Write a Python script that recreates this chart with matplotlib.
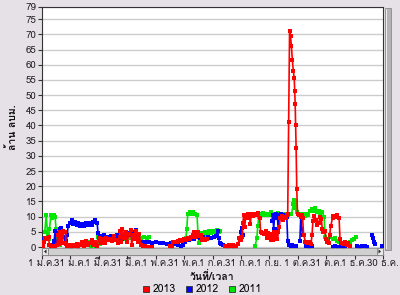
import numpy as np
import matplotlib
matplotlib.use("Agg")
import matplotlib.pyplot as plt
from matplotlib import font_manager
from matplotlib.lines import Line2D
from matplotlib.patches import Rectangle, Polygon

N = None  # gap in a series

# day of year (0..365) and value (ล้าน ลบม.)
red_days = [1, 2, 3, 5, 7, 8, 10, 12, 14, 16, 17, 18, 19, 20, 21, 22, 23, 25, 26, 27, 29, 31, 33, 35, 37, 39,
            41, 43, 45, 47, 49, 51, 53, 55, 57, 59, 61, 63, 65, 67, 69, 71, 73, 75, 77, 79, 81, 83, 84, 85, 86,
            88, 90, 91, 93, 95, 96, 98, 100, 101, 103, 104, 106, 108, 110, 112, N, 116, 118, N,
            137, 139, 140, 142, 144, 146, 148, 150, 152, 154, 156, 158, 160, 162, 163, 164, 166, 167, 168, 170,
            171, 173, 175, 177, N,
            196, 198, 200, 202, 204, 206, 208, 210, 211, 213, 214, 215, 216, 217, 218, 220, 221, 222, 223, 224,
            226, 228, 230, 231, 233, 234, 236, 238, 240, 241, 242, 244, 245, 246, 247, 248, 250, 251, 252, 253,
            254, 255, 257, 258, 259, 261, 262, 263, 264, 265, 266, 267, 268, 269, 270, 270.5, 271, 271.5, 272,
            272.7, 273.5, 275, 277, 278, 279, 280, 282, 284, 286, 288, 289, 290, 291, 293, 294, 296, 298, 299,
            300, 301, 303, 304, 305, 307, 308, 309, 311, 312, 314, 316, 318, 319, 320, 322, 324, 326, 328, 330]
red_vals = [0.3, 1.5, 3.0, 2.6, 3.2, 0.5, 0.0, 0.4, 0.0, 0.6, 3.8, 1.0, 5.0, 2.0, 4.5, 1.2, 5.2, 4.8, 1.0, 0.2,
            0.8, 0.0, 0.5, 0.2, 1.0, 0.1, 0.6, 1.6, 0.4, 1.9, 0.6, 1.2, 2.2, 0.6, 1.6, 0.3, 3.0, 1.2, 2.6, 1.4,
            3.0, 2.2, 2.6, 2.0, 3.6, 2.4, 1.4, 3.2, 5.2, 1.8, 6.0, 3.0, 5.0, 1.6, 4.2, 5.6, 0.8, 4.0, 2.8, 5.4,
            1.8, 4.4, 0.6, 0.2, 0.4, 0.0, N, 0.1, 0.0, N,
            0.2, 0.0, 1.5, 1.8, 1.6, 2.0, 2.2, 2.0, 2.6, 2.4, 3.0, 2.8, 3.4, 3.8, 4.8, 3.2, 4.2, 5.0, 3.6, 4.0,
            2.4, 2.8, 2.2, 2.6, N,
            0.4, 0.0, 0.6, 0.2, 0.5, 0.0, 0.3, 1.0, 3.0, 2.2, 3.2, 8.0, 10.5, 6.5, 10.2, 11.0, 9.5, 10.6, 7.5,
            10.8, 10.2, 11.0, 10.4, 11.2, 9.6, 5.0, 4.6, 4.2, 5.2, 3.0, 4.6, 3.6, 2.4, 4.2, 2.2, 5.0, 3.6, 4.4,
            2.6, 4.8, 6.5, 9.6, 10.2, 8.8, 10.0, 9.6, 10.4, 11.0, 41.0, 71.0, 69.5, 66.0, 61.5, 58.0, 55.5,
            51.5, 47.0, 40.0, 32.5, 19.0, 11.0, 10.4, 9.8, 10.6, 9.4, 4.0, 1.8, 1.2, 1.6, 1.0, 4.0, 8.5, 10.2,
            9.0, 7.2, 8.0, 10.0, 9.2, 6.0, 4.8, 5.4, 2.6, 1.6, 1.4, 4.0, 6.8, 9.6, 10.2, 9.8, 10.4, 9.6, 2.5,
            1.4, 1.0, 1.6, 0.6, 1.2, 0.4]

blue_days = [0, 1, N, 11, 13, 14, 15, 16, 18, 19, 20, 21, N,
             25, 26, 27, 28, 30, 32, 33, 35, 37, 39, 41, 43, 45, 47, 49, 51, 53, 55, 57, 59, 60, 62, 64, 66,
             68, 70, 72, 74, 76, 78, 80, 82, 84, 86, 88, 90, 92, 94, 96, 98, 100, 101, 102, 103, 106, 110, 114,
             118, 122, 126, 130, 134, 138, 142, 146, 149, 151, 153, 155, 157, 160, 163, 166, 169, 172, 175, 178,
             181, 184, 186, 188, 189, 190, 192, 194, 196, 199, 202, 205, N,
             212, 213, 214, 215, N,
             246, 247, 248, 249, 251, 252, 253, 254, 256, 258, 260, 262, 263, 264, 266, 268, 270, 272, N,
             276, 277, 278, 279, N, 283, 286, 289, N, 311, 314, 317, 320, 322, N, 324, N,
             337, 340, 343, 346, 348, N, 353, 354, 355, 356, N, 364]
blue_vals = [2.5, 2.0, N, 0.8, 2.0, 5.2, 1.2, 1.0, 4.6, 5.8, 6.2, 5.0, N,
             3.4, 2.0, 4.0, 7.0, 7.8, 9.0, 7.6, 8.2, 7.2, 7.8, 7.0, 7.6, 7.0, 8.0, 7.2, 7.8, 7.4, 8.2, 9.0, 8.0,
             4.5, 3.6, 3.2, 3.8, 3.0, 3.4, 2.8, 3.6, 3.0, 3.4, 3.8, 3.0, 3.4, 2.8, 3.6, 3.2, 3.8, 4.6, 4.0, 4.8,
             4.2, 5.6, 3.0, 1.8, 1.6, 1.5, 1.6, 1.4, 1.5, 1.3, 1.2, 1.0, 1.2, 0.9, 0.6, 0.3, 0.8, 1.8, 2.6, 2.4,
             3.0, 2.8, 3.4, 3.0, 3.2, 2.8, 3.4, 3.0, 3.2, 3.6, 5.4, 3.0, 1.2, 1.0, 0.8, 0.3, 0.0, 0.2, 0.0, N,
             3.0, 5.0, 6.2, 4.0, N,
             8.5, 10.6, 6.0, 10.2, 10.8, 9.4, 6.0, 10.4, 10.8, 9.6, 10.4, 10.0, 2.0, 0.6, 0.3, 0.5, 0.2, 0.4, N,
             2.0, 10.0, 6.0, 4.0, N, 0.3, 0.0, 0.2, N, 0.0, 0.2, 0.0, 0.3, 0.0, N, 0.3, N,
             0.2, 0.0, 0.3, 0.2, 0.0, N, 4.0, 3.0, 1.5, 1.0, N, 0.2]

green_days = [3, 4.5, 6, 7, 8, 9.5, 11, 12.5, 14, 15, 16, 17, 19, 20, N,
              40, 43, 46, 49, 52, 55, 58, 60, 62, 64, 66, 70, 74, 78, 82, 86, 90, 94, 97, 100, 103, 106, 109,
              112, 115, N,
              152, 154, 155, 156, 158, 160, 162, 164, 166, 167, 168, 169, 171, 173, 175, 177, 179, 181, 183, 185,
              187, 189, 191, N,
              228, 230, 231, 232, 233, 235, 237, 239, 241, 243, 245, 247, 249, 251, 253, 255, 257, 259, 261, 263,
              265, 267, 269, 270, 271, 272, 273, 275, 277, 279, 281, 283, 285, 287, 289, 290, 292, 294, 296, 298,
              300, 302, 303, 305, 308, 311, 314, 316, 318, 320, 322, 324, 326, N, 330, 332, 334, 336]
green_vals = [5.0, 10.6, 4.0, 2.6, 6.0, 10.4, 9.6, 10.6, 10.0, 6.0, 1.0, 1.6, 0.8, 1.2, N,
              1.0, 1.6, 0.8, 1.8, 0.4, 1.6, 0.2, 3.2, 1.0, 2.4, 1.8, 2.6, 2.2, 2.8, 2.4, 3.0, 2.6, 3.0, 3.4, 2.8,
              3.6, 3.0, 3.4, 3.0, 3.4, N,
              2.0, 3.0, 6.0, 11.0, 11.6, 11.0, 11.6, 11.0, 10.4, 4.0, 1.2, 2.2, 4.6, 3.6, 5.0, 4.4, 5.2, 4.6,
              5.4, 4.8, 5.6, 5.0, 5.4, N,
              0.3, 3.0, 7.0, 10.0, 11.0, 10.6, 11.2, 10.4, 11.0, 10.6, 11.4, 10.8, 11.0, 10.4, 11.2, 10.6, 11.0,
              10.4, 10.8, 10.6, 11.0, 10.8, 14.0, 15.6, 13.0, 15.0, 11.6, 10.8, 10.4, 10.8, 10.2, 10.8, 10.4,
              12.0, 12.6, 11.8, 13.0, 11.4, 11.8, 10.6, 11.4, 10.0, 3.2, 2.8, 3.2, 2.6, 3.0, 2.0, 1.6, 1.4, 1.0,
              0.8, 1.2, N, 1.8, 2.4, 2.8, 3.2]

series_names = ["2013", "2012", "2011"]
series_colors = ["#ff0000", "#0000ff", "#00e600"]

x_tick_labels = ["1 ม.ค.", "31 ม.ค.", "1 มี.ค.", "31 มี.ค.", "1 พ.ค.", "31 พ.ค.", "1 ก.ค.",
                 "31 ก.ค.", "1 ก.ย.", "1 ต.ค.", "31 ต.ค.", "1 ธ.ค.", "30 ธ.ค."]
y_ticks = [0, 5, 10, 15, 20, 25, 30, 35, 40, 45, 50, 55, 60, 65, 70, 75, 79]


def thai_font():
    # look for any installed font that really has Thai glyphs
    try:
        from fontTools.ttLib import TTFont
    except ImportError:
        return None
    for f in font_manager.fontManager.ttflist:
        cmap = None
        for num in (-1, 0):
            try:
                cmap = TTFont(f.fname, fontNumber=num, lazy=True).getBestCmap()
                break
            except Exception:
                continue
        if cmap and 0x0E21 in cmap and 0x0E25 in cmap:
            return f.name
    return None


tf = thai_font()
plt.rcParams['font.family'] = [tf, 'DejaVu Sans'] if tf else ['DejaVu Sans']

bg = '#e6e0e7'
fig = plt.figure(figsize=(4, 2.95), dpi=100, facecolor=bg)
ax = fig.add_axes([42/400, 40/295, 341/400, 248/295])
ax.set_facecolor('white')

data = [(red_days, red_vals), (blue_days, blue_vals), (green_days, green_vals)]
# 2011 underneath, 2013 on top
for i in [2, 1, 0]:
    d = np.array(data[i][0], dtype=float)
    v = np.array(data[i][1], dtype=float)
    ax.plot(d, v, color=series_colors[i], lw=1.2, marker='s', ms=2.4, mew=0,
            solid_joinstyle='miter', zorder=3 + (2 - i))

ax.set_xlim(0, 365)
ax.set_ylim(-2.63, 79)
ax.set_yticks(y_ticks)
ax.set_xticks(np.linspace(0, 365, 13))
ax.set_xticklabels(x_tick_labels)
ax.yaxis.grid(True, color='#cccccc', lw=1.0, zorder=1)
ax.set_axisbelow(True)
ax.tick_params(axis='both', direction='out', length=3, width=0.8, color='#333333',
               labelsize=7, labelcolor='#222222', pad=1)
ax.tick_params(axis='x', pad=0)
for s in ax.spines.values():
    s.set_color('#333333')
    s.set_linewidth(0.8)

# horizontal scroll bar over the bottom of the plot
h = 7 / 248
ax.add_patch(Rectangle((0, 0), 1, h, transform=ax.transAxes, fc='#d0d0d0', ec='#909090',
                       lw=0.6, zorder=10, clip_on=False))
ax.add_patch(Rectangle((0, 0), 6/341, h, transform=ax.transAxes, fc='#e8e8e8', ec='#808080',
                       lw=0.6, zorder=11, clip_on=False))
ax.add_patch(Rectangle((1 - 6/341, 0), 6/341, h, transform=ax.transAxes, fc='#e8e8e8', ec='#808080',
                       lw=0.6, zorder=11, clip_on=False))
ax.add_patch(Polygon([(2/341, h/2), (4.5/341, h*0.8), (4.5/341, h*0.2)], closed=True,
                     transform=ax.transAxes, fc='#222222', ec='none', zorder=12, clip_on=False))
ax.add_patch(Polygon([(1 - 2/341, h/2), (1 - 4.5/341, h*0.8), (1 - 4.5/341, h*0.2)], closed=True,
                     transform=ax.transAxes, fc='#222222', ec='none', zorder=12, clip_on=False))

# vertical scroll bar at the right
fig.patches.append(Rectangle((385/400, 45/295), 6/400, 242/295, transform=fig.transFigure,
                             fc='#b4b4b4', ec='#8c8c8c', lw=0.6))
fig.patches.append(Rectangle((385.5/400, 46/295), 1.5/400, 240/295, transform=fig.transFigure,
                             fc='#eeeeee', ec='none'))

fig.text(12/400, 1 - 127/295, 'ล้าน ลบม.', rotation=90, ha='center', va='center',
         fontsize=7.5, fontweight='bold', color='#111111')
fig.text(212/400, 1 - 277/295, 'วันที่/เวลา', ha='center', va='center',
         fontsize=7.5, fontweight='bold', color='#111111')

handles = [Line2D([], [], ls='none', marker='s', ms=4.5, mfc=c, mec='#333333', mew=0.6)
           for c in series_colors]
fig.legend(handles, series_names, loc='center', bbox_to_anchor=(202/400, 1 - 289.5/295), ncol=3,
           frameon=False, fontsize=7.5, handlelength=0.8, handletextpad=0.2, columnspacing=0.9,
           borderpad=0, borderaxespad=0)

fig.savefig('out.png', dpi=100, facecolor=bg)
